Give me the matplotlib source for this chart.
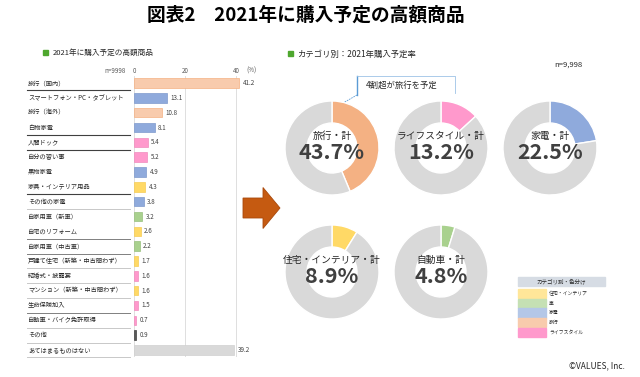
import matplotlib.pyplot as plt
import matplotlib.patches as mpatches
from matplotlib.transforms import blended_transform_factory

plt.rcParams['font.family'] = ['Noto Sans CJK JP', 'DejaVu Sans']

# 左：2021年に購入予定の高額商品 (%)
items = ['旅行（国内）', 'スマートフォン・PC・タブレット', '旅行（海外）', '白物家電',
         '人間ドック', '自分の習い事', '黒物家電', '家具・インテリア用品', 'その他の家電',
         '自家用車（新車）', '自宅のリフォーム', '自家用車（中古車）',
         '戸建て住宅（新築・中古問わず）', '結婚式・披露宴', 'マンション（新築・中古問わず）',
         '生命保険加入', '自動車・バイク免許取得', 'その他', 'あてはまるものはない']
item_values = [41.2, 13.1, 10.8, 8.1, 5.4, 5.2, 4.9, 4.3, 3.8, 3.2, 2.6, 2.2,
               1.7, 1.6, 1.6, 1.5, 0.7, 0.9, 39.2]
item_groups = ['旅行', '家電', '旅行', '家電', 'LS', 'LS', '家電', '住宅', '家電',
               '車', '住宅', '車', '住宅', 'LS', '住宅', 'LS', 'LS', 'その他', 'なし']
separators = ['dark', None, None, 'dark', 'dark', None, None, 'dark', 'light', None,
              'mid', 'mid', 'light', 'light', 'light', 'mid', 'light', 'light', 'light']

# 右：カテゴリ別 2021年購入予定率 (%)
donut_labels = ['旅行・計', 'ライフスタイル・計', '家電・計', '住宅・インテリア・計', '自動車・計']
donut_values = [43.7, 13.2, 22.5, 8.9, 4.8]

legend_labels = ['住宅・インテリア', '車', '家電', '旅行', 'ライフスタイル']

bar_color = {'旅行': '#F8CBAD', '家電': '#8FAADC', 'LS': '#FF99CC', '住宅': '#FFD966',
             '車': '#A9D18E', 'その他': '#595959', 'なし': '#D9D9D9'}
bar_edge = {'旅行': '#F4B183', '家電': '#7F9ACC', 'LS': '#F08CBE', '住宅': '#F5CC55',
            '車': '#98C07D', 'その他': '#404040', 'なし': '#D0D0D0'}
donut_colors = ['#F4B183', '#FF99CC', '#8FAADC', '#FFD966', '#A9D18E']
legend_colors = ['#FFE699', '#C5E0B4', '#B4C7E7', '#F8CBAD', '#FF99CC']
sep_color = {'dark': '#404040', 'mid': '#808080', 'light': '#C8C8C8'}

W, H = 640, 377
fig = plt.figure(figsize=(W / 100, H / 100), dpi=100)


def box(x0, y0, x1, y1):
    return [x0 / W, 1 - y1 / H, (x1 - x0) / W, (y1 - y0) / H]


# 全体の下地（ピクセル座標）
ov = fig.add_axes([0, 0, 1, 1])
ov.set_xlim(0, W)
ov.set_ylim(H, 0)
ov.axis('off')

ov.text(306, 15, '図表2　2021年に購入予定の高額商品', ha='center', va='center',
        fontsize=13.5, fontweight='bold', color='#000000')

ov.add_patch(mpatches.Rectangle((43, 50), 5, 5, color='#4EA72E'))
ov.text(53, 53, '2021年に購入予定の高額商品', ha='left', va='center', fontsize=5.5,
        color='#262626')
ov.add_patch(mpatches.Rectangle((288, 51), 5, 5, color='#4EA72E'))
ov.text(297, 54, 'カテゴリ別：2021年購入予定率', ha='left', va='center', fontsize=6,
        color='#262626')
ov.text(554, 65, 'n=9,998', ha='left', va='center', fontsize=5.5, color='#262626')

# 矢印
ov.add_patch(mpatches.FancyArrow(243, 208, 37, 0, width=20, head_width=41,
                                 head_length=17, length_includes_head=True,
                                 facecolor='#C55A11', edgecolor='#A9480B', lw=0.6))

# 吹き出し
ov.plot([357, 357], [76, 95], color='#5B9BD5', lw=1.0)
ov.plot([357, 455, 455], [76, 76, 93], color='#9DC3E6', lw=0.6)
ov.plot([357, 343], [95, 103], color='#5B9BD5', lw=0.6, ls=(0, (2, 1)))
ov.text(366, 85, '4割超が旅行を予定', ha='left', va='center', fontsize=6, color='#262626')

# 凡例ボックス
ov.add_patch(mpatches.Rectangle((518, 277), 87, 9, color='#D6DCE4'))
ov.text(561, 281.5, 'カテゴリ別・色分け', ha='center', va='center', fontsize=4,
        color='#262626')
for i, (lab, col) in enumerate(zip(legend_labels, legend_colors)):
    y0 = 289 + i * 9.7
    ov.add_patch(mpatches.Rectangle((518, y0), 28, 9.2, color=col))
    ov.text(549, y0 + 4.6, lab, ha='left', va='center', fontsize=3.5, color='#262626')

ov.text(625, 366, '©VALUES, Inc.', ha='right', va='center', fontsize=6, color='#262626')

# 棒グラフ
ax = fig.add_axes(box(134, 75.6, 261.5, 357.4))
ax.patch.set_visible(False)
rows = list(range(len(items)))
ax.barh(rows, item_values, height=0.64,
        color=[bar_color[g] for g in item_groups],
        edgecolor=[bar_edge[g] for g in item_groups], linewidth=0.5, zorder=3)
ax.set_xlim(0, 50)
ax.set_ylim(len(items) - 0.5, -0.5)
for s in ax.spines.values():
    s.set_visible(False)
ax.set_xticks([])
ax.set_yticks([])
for gx in [0, 20, 40]:
    ax.axvline(gx, color='#D9D9D9', lw=0.6, zorder=1)
for r, v in zip(rows, item_values):
    ax.annotate(f'{v:.1f}', (v, r), xytext=(2.5, 0), textcoords='offset points',
                ha='left', va='center', fontsize=4.5, color='#404040')

tr = blended_transform_factory(fig.transFigure, ax.transData)
for r, lab, sep in zip(rows, items, separators):
    ax.text(28 / W, r, lab, transform=tr, ha='left', va='center', fontsize=4.5,
            color='#262626')
    if sep:
        ax.plot([27 / W, 130 / W], [r + 0.5, r + 0.5], transform=tr, clip_on=False,
                color=sep_color[sep], lw=0.8 if sep == 'dark' else 0.7)

top_tr = blended_transform_factory(ax.transData, fig.transFigure)
for tx, tl in zip([0, 20, 40], ['0', '20', '40']):
    ax.text(tx, 1 - 71 / H, tl, transform=top_tr, ha='center', va='center',
            fontsize=4.5, color='#595959')
ax.text(126 / W, 1 - 71 / H, 'n=9998', transform=fig.transFigure, ha='right',
        va='center', fontsize=4.5, color='#595959')
ax.text(246 / W, 1 - 71 / H, '(%)', transform=fig.transFigure, ha='left',
        va='center', fontsize=4.5, color='#595959')

# ドーナツ
centers = [(332, 148), (441, 148), (550, 148), (332, 272), (441, 272)]
for (cx, cy), lab, v, col in zip(centers, donut_labels, donut_values, donut_colors):
    dax = fig.add_axes(box(cx - 50, cy - 50, cx + 50, cy + 50))
    dax.patch.set_visible(False)
    dax.pie([v, 100 - v], colors=[col, '#D9D9D9'], startangle=90, counterclock=False,
            radius=0.94, wedgeprops=dict(width=0.44, edgecolor='white', linewidth=1))
    dax.set_xlim(-1, 1)
    dax.set_ylim(-1, 1)
    dax.axis('off')
    dax.text(0, 0.25, lab, ha='center', va='center', fontsize=7, color='#262626')
    dax.text(0, -0.09, f'{v}%', ha='center', va='center', fontsize=15.5,
             fontweight='bold', color='#404040')

fig.savefig('out.png', dpi=100)
